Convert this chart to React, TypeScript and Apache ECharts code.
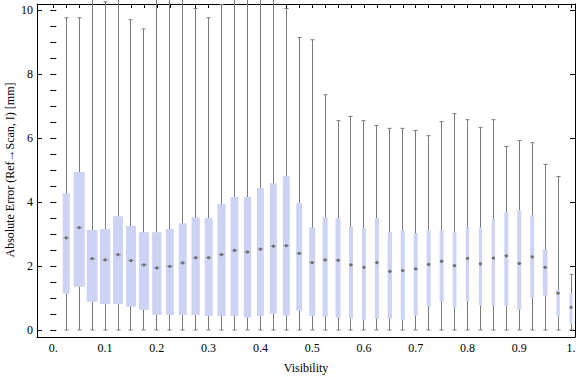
import React, { useEffect, useRef } from "react";
import * as echarts from "echarts";

const visibility = [
  0.025, 0.05, 0.075, 0.1, 0.125, 0.15, 0.175, 0.2, 0.225, 0.25,
  0.275, 0.3, 0.325, 0.35, 0.375, 0.4, 0.425, 0.45, 0.475, 0.5,
  0.525, 0.55, 0.575, 0.6, 0.625, 0.65, 0.675, 0.7, 0.725, 0.75,
  0.775, 0.8, 0.825, 0.85, 0.875, 0.9, 0.925, 0.95, 0.975, 1.0,
];
const whiskerLow = [
  0, 0, 0, 0, 0, 0, 0, 0, 0, 0,
  0, 0, 0, 0, 0, 0, 0, 0, 0, 0,
  0, 0, 0, 0, 0, 0, 0, 0, 0, 0,
  0, 0, 0, 0, 0, 0, 0, 0, 0, 0,
];
const quartileLow = [
  1.13, 1.35, 0.88, 0.81, 0.81, 0.73, 0.63, 0.47, 0.47, 0.47,
  0.47, 0.44, 0.44, 0.44, 0.39, 0.44, 0.51, 0.45, 0.6, 0.44,
  0.42, 0.38, 0.35, 0.31, 0.35, 0.35, 0.32, 0.45, 0.73, 0.89,
  0.71, 0.89, 0.76, 0.76, 0.75, 0.63, 1.01, 1.07, 0.42, 0.19,
];
const median = [
  2.88, 3.2, 2.23, 2.19, 2.36, 2.17, 2.04, 1.94, 1.99, 2.1,
  2.26, 2.26, 2.36, 2.49, 2.44, 2.53, 2.62, 2.64, 2.4, 2.11,
  2.19, 2.18, 2.04, 1.96, 2.11, 1.83, 1.86, 1.91, 2.05, 2.15,
  2.01, 2.24, 2.07, 2.25, 2.32, 2.08, 2.29, 1.96, 1.15, 0.71,
];
const quartileHigh = [
  4.28, 4.94, 3.13, 3.16, 3.56, 3.25, 3.06, 3.06, 3.16, 3.34,
  3.53, 3.5, 3.94, 4.16, 4.16, 4.44, 4.59, 4.81, 3.97, 3.21,
  3.53, 3.5, 3.22, 3.19, 3.5, 3.06, 3.13, 3.03, 3.13, 3.11,
  3.08, 3.22, 3.21, 3.47, 3.69, 3.75, 3.59, 2.52, 1.28, 1.15,
];
const whiskerHigh = [
  9.77, 9.77, 10.5, 10.27, 10.5, 9.71, 9.42, 10.5, 10.5, 10.5,
  10.06, 9.77, 10.18, 10.5, 10.5, 10.5, 10.5, 10.06, 9.15, 9.08,
  7.36, 6.55, 6.68, 6.55, 6.4, 6.31, 6.31, 6.24, 6.08, 6.52,
  6.77, 6.58, 6.34, 6.58, 5.74, 5.93, 5.86, 5.18, 4.8, 1.74,
];
// box width as a share of the 0.025 slot (encodes sample size)
const boxShare = [
  0.54, 0.85, 0.83, 0.8, 0.77, 0.77, 0.77, 0.72, 0.62, 0.62,
  0.64, 0.62, 0.62, 0.6, 0.56, 0.54, 0.54, 0.54, 0.46, 0.46,
  0.39, 0.39, 0.31, 0.31, 0.31, 0.33, 0.31, 0.31, 0.31, 0.31,
  0.29, 0.26, 0.23, 0.26, 0.31, 0.31, 0.31, 0.36, 0.26, 0.23,
];

const xTickLabels = [0, 0.1, 0.2, 0.3, 0.4, 0.5, 0.6, 0.7, 0.8, 0.9, 1];
const xTopTicks = [
  0, 0.025, 0.05, 0.075, 0.1, 0.125, 0.15, 0.175, 0.2, 0.225, 0.25,
  0.275, 0.3, 0.325, 0.35, 0.375, 0.4, 0.425, 0.45, 0.475, 0.5,
  0.525, 0.55, 0.575, 0.6, 0.625, 0.65, 0.675, 0.7, 0.725, 0.75,
  0.775, 0.8, 0.825, 0.85, 0.875, 0.9, 0.925, 0.95, 0.975, 1.0,
];
const yTickLabels = [0, 2, 4, 6, 8, 10];
const yMinorTicks = [
  0, 0.5, 1, 1.5, 2, 2.5, 3, 3.5, 4, 4.5, 5, 5.5, 6, 6.5, 7, 7.5, 8, 8.5, 9, 9.5, 10,
];
const yTitle = "Absolute Error (Ref\u2192Scan, I) [mm]";
const xTitle = "Visibility";

const FONT = "'Liberation Serif', 'Times New Roman', serif";
const X_MIN = -0.0315;
const X_MAX = 1.0077;
const Y_MIN = -0.22;
const Y_MAX = 10.2;

export default function App() {
  const ref = useRef<HTMLDivElement>(null);
  useEffect(() => {
    if (!ref.current) return;
    const chart = echarts.init(ref.current, null, { renderer: "svg" });
    const data = visibility.map((v, i) => [
      v,
      whiskerLow[i],
      quartileLow[i],
      median[i],
      quartileHigh[i],
      whiskerHigh[i],
      boxShare[i],
    ]);
    const gray = "#7a7a7a";
    const renderItem = (params: any, api: any) => {
      const x = api.value(0);
      const lo = api.coord([x, api.value(1)]);
      const q1 = api.coord([x, api.value(2)]);
      const md = api.coord([x, api.value(3)]);
      const q3 = api.coord([x, api.value(4)]);
      const hi = api.coord([x, api.value(5)]);
      const slot = api.size([0.025, 0])[0];
      const w = slot * api.value(6);
      const cx = Math.round(lo[0] - 0.5) + 0.5;
      const ml = Math.min(3, w / 2);
      return {
        type: "group",
        children: [
          {
            type: "line",
            shape: { x1: cx, y1: lo[1], x2: cx, y2: hi[1] },
            style: { stroke: gray, lineWidth: 1 },
          },
          {
            type: "line",
            shape: { x1: cx - 2, y1: lo[1], x2: cx + 2, y2: lo[1] },
            style: { stroke: gray, lineWidth: 1 },
          },
          {
            type: "line",
            shape: { x1: cx - 2, y1: hi[1], x2: cx + 2, y2: hi[1] },
            style: { stroke: gray, lineWidth: 1 },
          },
          {
            type: "rect",
            shape: { x: lo[0] - w / 2, y: q3[1], width: w, height: q1[1] - q3[1] },
            style: { fill: "#CCD3F4" },
          },
          {
            type: "line",
            shape: { x1: lo[0] - ml, y1: md[1], x2: lo[0] + ml, y2: md[1] },
            style: { stroke: "#9a9a9a", lineWidth: 1 },
          },
          {
            type: "circle",
            shape: { cx: lo[0], cy: md[1], r: 1.6 },
            style: { fill: "#6f6f6f" },
          },
        ],
      };
    };
    const axisLine = { show: true, onZero: false, lineStyle: { color: "#000", width: 1 } };
    chart.setOption({
      animation: false,
      grid: { left: 37, right: 1, top: 4, bottom: 40, outerBoundsMode: "none", containLabel: false },
      graphic: [
        {
          type: "text",
          x: 10,
          y: 170,
          rotation: Math.PI / 2,
          style: {
            text: yTitle,
            fill: "#000",
            font: `12px ${FONT}`,
            align: "center",
            verticalAlign: "middle",
          },
        },
        {
          type: "text",
          x: 306,
          y: 368,
          style: {
            text: xTitle,
            fill: "#000",
            font: `12px ${FONT}`,
            align: "center",
            verticalAlign: "middle",
          },
        },
      ],
      xAxis: [
        {
          type: "value",
          position: "bottom",
          min: X_MIN,
          max: X_MAX,
          axisLine,
          axisTick: { show: false },
          splitLine: { show: false },
          axisLabel: {
            customValues: xTickLabels,
            color: "#000",
            fontFamily: FONT,
            fontSize: 12,
            margin: 5,
            formatter: (v: number) =>
              v === 0 ? "0." : v === 1 ? "1." : v.toFixed(1),
          },
        },
        {
          type: "value",
          position: "top",
          min: X_MIN,
          max: X_MAX,
          axisLine,
          axisTick: {
            show: true,
            inside: true,
            length: 4,
            customValues: xTopTicks,
            lineStyle: { color: "#000" },
          },
          splitLine: { show: false },
          axisLabel: { show: false },
        },
      ],
      yAxis: [
        {
          type: "value",
          position: "left",
          min: Y_MIN,
          max: Y_MAX,
          axisLine,
          axisTick: {
            show: true,
            inside: true,
            length: 5,
            customValues: yTickLabels,
            lineStyle: { color: "#000" },
          },
          splitLine: { show: false },
          axisLabel: {
            customValues: yTickLabels,
            color: "#000",
            fontFamily: FONT,
            fontSize: 12,
            margin: 4,
            formatter: (v: number) => String(v),
          },
        },
        {
          type: "value",
          position: "left",
          min: Y_MIN,
          max: Y_MAX,
          axisLine: { show: false },
          axisTick: {
            show: true,
            inside: true,
            length: 3,
            customValues: yMinorTicks,
            lineStyle: { color: "#000" },
          },
          splitLine: { show: false },
          axisLabel: { show: false },
        },
        {
          type: "value",
          position: "right",
          min: Y_MIN,
          max: Y_MAX,
          axisLine,
          axisTick: {
            show: true,
            inside: true,
            length: 5,
            customValues: yTickLabels,
            lineStyle: { color: "#000" },
          },
          splitLine: { show: false },
          axisLabel: { show: false },
        },
        {
          type: "value",
          position: "right",
          min: Y_MIN,
          max: Y_MAX,
          axisLine: { show: false },
          axisTick: {
            show: true,
            inside: true,
            length: 3,
            customValues: yMinorTicks,
            lineStyle: { color: "#000" },
          },
          splitLine: { show: false },
          axisLabel: { show: false },
        },
      ],
      series: [
        {
          type: "custom",
          xAxisIndex: 0,
          yAxisIndex: 0,
          clip: false,
          renderItem,
          encode: { x: 0, y: [1, 2, 3, 4, 5] },
          data,
        },
      ],
    });
    return () => chart.dispose();
  }, []);
  return (
    <div
      ref={ref}
      style={{ position: "absolute", left: 0, top: 0, width: 576, height: 377 }}
    />
  );
}
